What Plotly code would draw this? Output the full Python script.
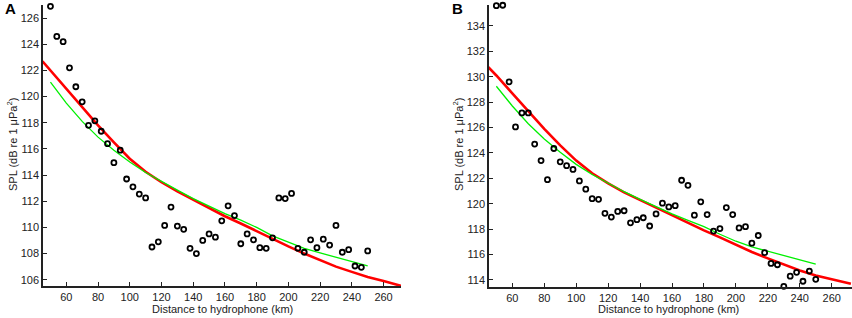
import plotly.graph_objects as go

# ---------------- data ----------------
dist = [50, 54, 58, 62, 66, 70, 74, 78, 82, 86, 90, 94, 98, 102, 106, 110, 114, 118, 122, 126,
        130, 134, 138, 142, 146, 150, 154, 158, 162, 166, 170, 174, 178, 182, 186, 190, 194, 198,
        202, 206, 210, 214, 218, 222, 226, 230, 234, 238, 242, 246, 250]

spl_a = [126.9, 124.6, 124.2, 122.2, 120.75, 119.6, 117.8, 118.15, 117.35, 116.4, 114.95, 115.9,
         113.7, 113.1, 112.55, 112.25, 108.5, 108.9, 110.15, 111.55, 110.1, 109.85, 108.4, 108.0,
         109.0, 109.5, 109.25, 110.5, 111.65, 110.9, 108.75, 109.5, 109.05, 108.45, 108.4, 109.2,
         112.25, 112.2, 112.6, 108.4, 108.1, 109.05, 108.45, 109.1, 108.65, 110.15, 108.1, 108.3,
         107.05, 106.95, 108.2]

spl_b = [135.6, 135.63, 129.6, 126.05, 127.15, 127.15, 124.7, 123.4, 121.9, 124.35, 123.3, 123.0,
         122.7, 121.8, 121.15, 120.4, 120.35, 119.25, 118.95, 119.4, 119.45, 118.5, 118.75, 118.9,
         118.25, 119.2, 120.05, 119.75, 119.85, 121.85, 121.45, 119.1, 120.15, 119.15, 117.85,
         118.05, 119.7, 119.15, 118.1, 118.2, 116.9, 117.5, 116.15, 115.3, 115.2, 113.5, 114.3,
         114.6, 113.9, 114.7, 114.05]

red_x = [45, 50, 60, 70, 80, 90, 100, 110, 120, 130, 140, 150, 160, 170, 180, 190, 200, 210,
         220, 230, 240, 250, 260, 272]
red_a = [122.7, 122.0, 120.6, 119.2, 117.8, 116.5, 115.25, 114.25, 113.45, 112.75, 112.1, 111.45,
         110.85, 110.3, 109.7, 109.15, 108.55, 108.0, 107.5, 107.0, 106.6, 106.2, 105.9, 105.5]
red_b = [130.75, 130.1, 128.7, 127.3, 125.9, 124.6, 123.4, 122.4, 121.6, 120.9, 120.3, 119.65,
         119.05, 118.5, 117.9, 117.35, 116.75, 116.2, 115.7, 115.2, 114.75, 114.35, 114.05, 113.7]

green_x = [50, 60, 70, 80, 90, 100, 110, 120, 130, 140, 150, 160, 170, 180, 190, 200, 210, 220,
           230, 240, 250]
green_a = [121.1, 119.5, 118.1, 116.9, 115.9, 115.0, 114.2, 113.5, 112.85, 112.2, 111.6, 111.05,
           110.55, 110.0, 109.35, 108.85, 108.4, 108.05, 107.7, 107.4, 107.05]
green_b = [129.25, 127.7, 126.3, 125.1, 124.05, 123.1, 122.3, 121.6, 120.95, 120.35, 119.75,
           119.2, 118.7, 118.2, 117.6, 117.05, 116.6, 116.25, 115.9, 115.6, 115.25]

xticks = [60, 80, 100, 120, 140, 160, 180, 200, 220, 240, 260]
yticks_a = [106, 108, 110, 112, 114, 116, 118, 120, 122, 124, 126]
yticks_b = [114, 116, 118, 120, 122, 124, 126, 128, 130, 132, 134]

W, H = 852, 318
FONT = "Arial, Liberation Sans, sans-serif"

fig = go.Figure()

for xa, ya, pts, red, green in [("x", "y", spl_a, red_a, green_a),
                                ("x2", "y2", spl_b, red_b, green_b)]:
    fig.add_trace(go.Scatter(x=red_x, y=red, xaxis=xa, yaxis=ya, mode="lines",
                             line=dict(color="#ff0000", width=2.6), showlegend=False))
    fig.add_trace(go.Scatter(x=green_x, y=green, xaxis=xa, yaxis=ya, mode="lines",
                             line=dict(color="#00f000", width=1.3), showlegend=False))
    fig.add_trace(go.Scatter(x=dist, y=pts, xaxis=xa, yaxis=ya, mode="markers",
                             marker=dict(symbol="circle-open", size=5, color="black",
                                         line=dict(width=1.8, color="black")),
                             cliponaxis=False, showlegend=False))

axis_common = dict(showline=True, linecolor="#222", linewidth=1.5, ticks="inside",
                   ticklen=4, tickwidth=1, tickcolor="#222", showgrid=False, zeroline=False,
                   tickfont=dict(family=FONT, size=11, color="#222"), mirror=False)

fig.update_layout(
    width=W, height=H, margin=dict(l=0, r=0, t=0, b=0),
    plot_bgcolor="white", paper_bgcolor="white",
    xaxis=dict(domain=[43 / W, 401 / W], range=[45.3, 271], tickvals=xticks, anchor="y",
               **axis_common),
    yaxis=dict(domain=[1 - 286 / H, 1 - 5 / H], range=[105.52, 127.0], tickvals=yticks_a,
               anchor="x", **axis_common),
    xaxis2=dict(domain=[489 / W, 852 / W], range=[45.4, 272.7], tickvals=xticks, anchor="y2",
                **axis_common),
    yaxis2=dict(domain=[1 - 286.7 / H, 1 - 5 / H], range=[113.47, 135.65], tickvals=yticks_b,
                anchor="x2", **axis_common),
)

ann = []
for lbl, xc in [("A", 10), ("B", 457)]:
    ann.append(dict(text="<b>" + lbl + "</b>", x=xc / W, y=1 - 9 / H, xref="paper", yref="paper",
                    showarrow=False, font=dict(family=FONT, size=15, color="black"),
                    xanchor="center", yanchor="middle"))
for xc in [12, 458]:
    ann.append(dict(text="SPL (dB re 1 μPa<sup>2</sup>)", x=xc / W, y=1 - 145 / H,
                    xref="paper", yref="paper", showarrow=False, textangle=-90,
                    font=dict(family=FONT, size=11, color="#222"),
                    xanchor="center", yanchor="middle"))
for xc in [222, 668]:
    ann.append(dict(text="Distance to hydrophone (km)", x=xc / W, y=1 - 309 / H,
                    xref="paper", yref="paper", showarrow=False,
                    font=dict(family=FONT, size=11, color="#222"),
                    xanchor="center", yanchor="middle"))
fig.update_layout(annotations=ann)

fig.write_html("out.html", config={"displayModeBar": False},
               post_script="document.body.style.margin='0';document.body.style.padding='0';"
                           "document.body.style.overflow='hidden';")
